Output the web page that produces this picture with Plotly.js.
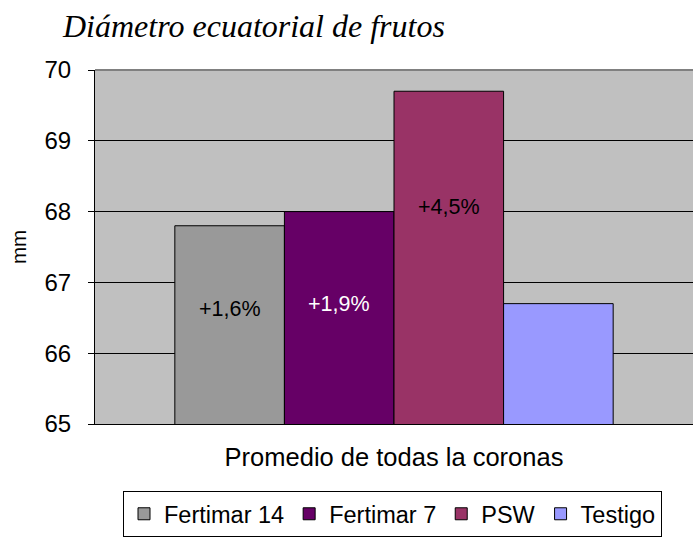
<!DOCTYPE html>
<html>
<head>
<meta charset="utf-8">
<script src="https://cdn.plot.ly/plotly-3.0.1.min.js"></script>
<style>html,body{margin:0;padding:0;background:#fff;}</style>
</head>
<body>
<div id="chart" style="width:693px;height:537px;"></div>
<script>
const categories = ["Promedio de todas la coronas"];
const seriesNames = ["Fertimar 14", "Fertimar 7", "PSW", "Testigo"];
const seriesValues = [67.8, 68.0, 69.7, 66.7];
const seriesColors = ["#999999", "#660066", "#993366", "#9999FF"];
const labelTexts = ["+1,6%", "+1,9%", "+4,5%", ""];
const labelY = [66.63, 66.69, 68.07, null];
const labelColors = ["#000000", "#FFFFFF", "#000000", "#000000"];
const yTicks = [65, 66, 67, 68, 69, 70];

const FONT = "Liberation Sans, Arial, sans-serif";
const bargap = 0.267;

const traces = seriesNames.map((name, i) => ({
  type: "bar",
  name: name,
  x: categories,
  y: [seriesValues[i]],
  marker: { color: seriesColors[i], line: { color: "#000000", width: 1 } },
  hoverinfo: "name+y"
}));

const n = seriesNames.length;
const slot = (1 - bargap) / n;
const annotations = [];
seriesNames.forEach((name, i) => {
  if (!labelTexts[i]) return;
  annotations.push({
    xref: "x", yref: "y",
    x: 0 + (i - (n - 1) / 2) * slot,
    y: labelY[i],
    text: labelTexts[i],
    showarrow: false,
    font: { family: FONT, size: 21.5, color: labelColors[i] }
  });
});

const layout = {
  width: 693, height: 537,
  margin: { l: 95, r: 0, t: 70, b: 113, autoexpand: false },
  paper_bgcolor: "#FFFFFF",
  plot_bgcolor: "#C0C0C0",
  barmode: "group",
  bargap: bargap,
  bargroupgap: 0,
  title: {
    text: "<i>Diámetro ecuatorial de frutos</i>",
    font: { family: "Liberation Serif, Times New Roman, serif", size: 32, color: "#000000" },
    xref: "container", x: 63 / 693, xanchor: "left",
    yref: "container", y: 1 - 26 / 537, yanchor: "middle"
  },
  xaxis: {
    type: "category",
    showgrid: false,
    showline: true, linecolor: "#000000", linewidth: 1,
    ticks: "",
    ticklabelstandoff: 10,
    tickfont: { family: FONT, size: 25.5, color: "#000000" },
    fixedrange: true
  },
  yaxis: {
    range: [65, 70],
    tickvals: yTicks,
    ticktext: yTicks.map(String),
    showgrid: true, gridcolor: "#000000", gridwidth: 1,
    zeroline: false,
    showline: true, linecolor: "#000000", linewidth: 1,
    ticks: "outside", ticklen: 6, tickcolor: "#000000", tickwidth: 1,
    ticklabelstandoff: 12,
    tickfont: { family: FONT, size: 24, color: "#000000" },
    title: { text: "mm", font: { family: FONT, size: 20.5, color: "#000000" }, standoff: 12 },
    fixedrange: true
  },
  shapes: [{
    type: "line", xref: "paper", yref: "paper",
    x0: 0, x1: 1, y0: 1, y1: 1,
    line: { color: "#808080", width: 2 },
    layer: "above"
  }],
  annotations: annotations,
  showlegend: true,
  legend: {
    orientation: "h",
    x: (123 - 95) / 598, xanchor: "left",
    y: -(491 - 424) / 354, yanchor: "top",
    bgcolor: "#FFFFFF",
    bordercolor: "#000000", borderwidth: 1,
    font: { family: FONT, size: 23.5, color: "#000000" }
  }
};

Plotly.newPlot("chart", traces, layout, { displayModeBar: false, staticPlot: true });
</script>
</body>
</html>
